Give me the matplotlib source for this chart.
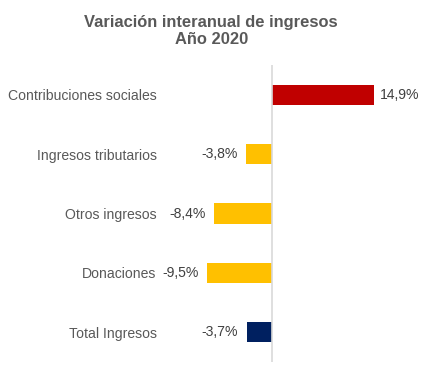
import matplotlib
matplotlib.use("Agg")
import matplotlib.pyplot as plt

plt.rcParams["font.family"] = ["Liberation Sans", "DejaVu Sans"]

categories = ["Contribuciones sociales", "Ingresos tributarios", "Otros ingresos",
              "Donaciones", "Total Ingresos"]
values = [14.9, -3.8, -8.4, -9.5, -3.7]
labels = ["14,9%", "-3,8%", "-8,4%", "-9,5%", "-3,7%"]
colors = ["#C00000", "#FFC000", "#FFC000", "#FFC000", "#002060"]

fig = plt.figure(figsize=(4.25, 3.76), dpi=100)
ax = fig.add_axes([160 / 425, 14 / 376, 265 / 425, 297 / 376])

y = list(range(len(categories)))
ax.barh(y, values, height=0.34, color=colors)

ax.set_xlim(-16.35, 22.35)
ax.set_ylim(len(categories) - 0.5, -0.5)
ax.axvline(0, color="#D9D9D9", lw=1.2)

ax.set_yticks(y)
ax.set_yticklabels(categories, fontsize=10.1, color="#595959")
ax.tick_params(axis="y", length=0, pad=2.5)
ax.set_xticks([])
for s in ax.spines.values():
    s.set_visible(False)

for yi, v, lab in zip(y, values, labels):
    if v >= 0:
        ax.annotate(lab, (v, yi), xytext=(4, 0), textcoords="offset points",
                    ha="left", va="center", fontsize=10.1, color="#404040")
    else:
        ax.annotate(lab, (v, yi), xytext=(-6, 0), textcoords="offset points",
                    ha="right", va="center", fontsize=10.1, color="#404040")

fig.text(0.497, 0.917, "Variación interanual de ingresos\nAño 2020", ha="center",
         va="center", fontsize=11.9, fontweight="bold", color="#595959",
         linespacing=1.15)

fig.savefig("out.png", dpi=100)
